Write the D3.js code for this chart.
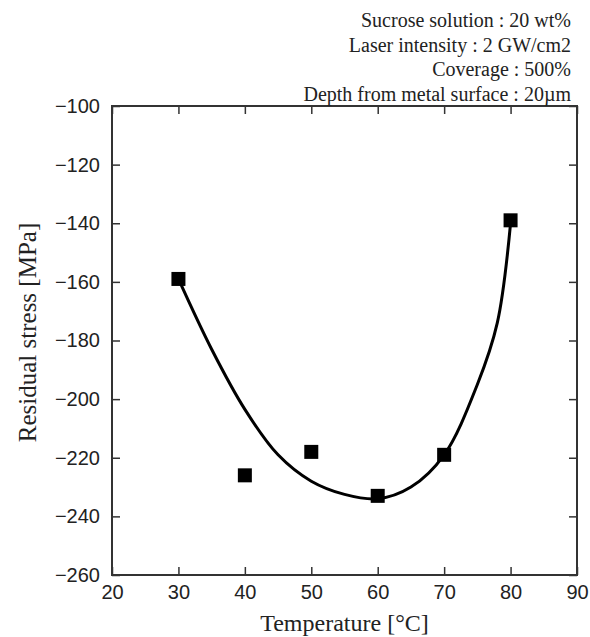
<!DOCTYPE html>
<html>
<head>
<meta charset="utf-8">
<script src="https://cdn.jsdelivr.net/npm/d3@7"></script>
<style>
	body { margin: 0; background: #fff; }
	svg text { fill: #222; }
</style>
</head>
<body>
<svg id="chart-svg" width="590" height="637"></svg>
<script>
// measured points
var temps = [30, 40, 50, 60, 70, 80];
var stress = [-159, -226, -218, -233, -219, -139];

// fitted curve
var curveTemps = [30, 35, 40, 45, 50, 55, 60, 65, 70, 75, 78, 80];
var curveStress = [-159, -183, -203.5, -219, -228, -232.5, -234, -230, -219, -195, -174, -140];

var xTicks = [20, 30, 40, 50, 60, 70, 80, 90];
var yTicks = [-100, -120, -140, -160, -180, -200, -220, -240, -260];

var notes = ["Sucrose solution : 20 wt%", "Laser intensity : 2 GW/cm2", "Coverage : 500%", "Depth from metal surface : 20\u00b5m"];

var margin = {top: 106, right: 13, bottom: 62, left: 112},
	width = 590 - margin.left - margin.right,
	height = 637 - margin.top - margin.bottom,
	svg = d3.select("#chart-svg")
		.append("g")
		.attr("transform", "translate(" + margin.left + "," + margin.top + ")"),
	x = d3.scaleLinear().domain([20, 90]).range([0, width]),
	y = d3.scaleLinear().domain([-260, -100]).range([height, 0]);

var tickFont = "Liberation Sans, Arial, sans-serif",
	serif = "Liberation Serif, Times New Roman, serif";

// axes, ticks inward on all sides
function styleAxis(g) {
	g.select(".domain").remove();
	g.selectAll(".tick line").attr("stroke", "#333").attr("stroke-width", 1.5);
	g.selectAll(".tick text").attr("font-family", tickFont).attr("font-size", 20).attr("fill", "#222");
}

svg.append("g")
	.attr("transform", "translate(0," + height + ")")
	.call(d3.axisBottom(x).tickValues(xTicks).tickSize(-8).tickPadding(10))
	.call(styleAxis);

svg.append("g")
	.call(d3.axisLeft(y).tickValues(yTicks).tickSize(-8).tickPadding(12))
	.call(styleAxis);

svg.append("g")
	.call(d3.axisTop(x).tickValues(xTicks).tickSize(-8).tickFormat(""))
	.call(styleAxis);

svg.append("g")
	.attr("transform", "translate(" + width + ",0)")
	.call(d3.axisRight(y).tickValues(yTicks).tickSize(-8).tickFormat(""))
	.call(styleAxis);

svg.append("rect")
	.attr("width", width)
	.attr("height", height)
	.attr("fill", "none")
	.attr("stroke", "#333")
	.attr("stroke-width", 2);

// fitted curve
var line = d3.line()
	.x(function(d, i) { return x(curveTemps[i]); })
	.y(function(d) { return y(d); })
	.curve(d3.curveCatmullRom.alpha(0.5));

svg.append("path")
	.datum(curveStress)
	.attr("d", line)
	.attr("fill", "none")
	.attr("stroke", "#000")
	.attr("stroke-width", 3);

// markers
var s = 14;
svg.selectAll(".pt")
	.data(stress)
	.enter().append("rect")
	.attr("class", "pt")
	.attr("x", function(d, i) { return x(temps[i]) - s / 2; })
	.attr("y", function(d) { return y(d) - s / 2; })
	.attr("width", s)
	.attr("height", s)
	.attr("fill", "#000");

// axis titles
svg.append("text")
	.attr("x", width / 2)
	.attr("y", height + 56)
	.attr("text-anchor", "middle")
	.attr("font-family", serif)
	.attr("font-size", 24)
	.text("Temperature [\u00b0C]");

svg.append("text")
	.attr("transform", "translate(" + (-76) + "," + (height / 2 - 8) + ") rotate(-90)")
	.attr("text-anchor", "middle")
	.attr("font-family", serif)
	.attr("font-size", 25)
	.text("Residual stress [MPa]");

// condition notes, top right
d3.select("#chart-svg").selectAll(".note")
	.data(notes)
	.enter().append("text")
	.attr("class", "note")
	.attr("x", 571)
	.attr("y", function(d, i) { return 27 + i * 24.5; })
	.attr("text-anchor", "end")
	.attr("font-family", serif)
	.attr("font-size", 20)
	.text(function(d) { return d; });
</script>
</body>
</html>
